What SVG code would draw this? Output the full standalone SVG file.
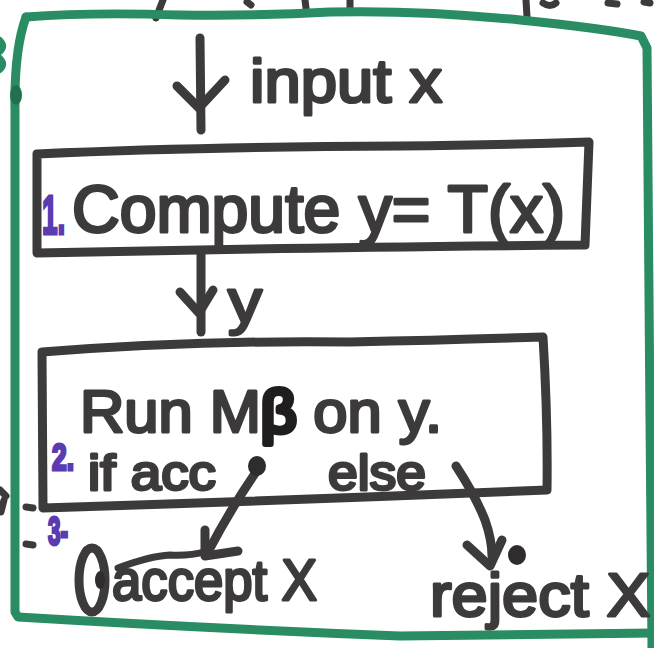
<svg xmlns="http://www.w3.org/2000/svg" width="654" height="648" viewBox="0 0 654 648">
  <style>
    .ink { fill: none; stroke: #3d3a3b; stroke-width: 9; stroke-linecap: round; stroke-linejoin: round; }
    .thin { fill: none; stroke: #3d3a3b; stroke-width: 7; stroke-linecap: round; stroke-linejoin: round; }
    .green { fill: none; stroke: #2a8c62; stroke-width: 9; stroke-linecap: round; stroke-linejoin: round; }
    .txt { font-family: "Liberation Sans", Arial, sans-serif; fill: #3d3a3b; stroke: #3d3a3b; stroke-width: 3; stroke-linejoin: round; }
    .num { font-family: "Liberation Sans", Arial, sans-serif; fill: #5a3bb2; stroke: #5a3bb2; stroke-width: 3; font-weight: bold; }
    .dot { fill: #2f2c2d; }
  </style>
  <rect width="654" height="648" fill="#ffffff"/>

  <!-- ink fragments along the top and left edges -->
  <g id="edge-marks">
    <path class="thin" d="M163,0 L156,18"/>
    <path class="thin" d="M247,2 L251,5"/>
    <path class="thin" d="M305,0 L306,8"/>
    <path class="thin" d="M350,0 L350,8"/>
    <path class="thin" d="M526,0 L527,17"/>
    <path class="thin" d="M543,3 Q550,8 556,3"/>
    <path class="thin" d="M608,3 L617,4"/>
    <path class="thin" d="M644,2 L650,3"/>
    <path d="M0,40 Q6,46 0,52 M0,58 Q6,64 0,70" fill="none" stroke="#2a8c62" stroke-width="6" stroke-linecap="round"/>
    <path class="thin" d="M0,490 L6,496 M4,500 L1,512"/>
    <path class="thin" d="M26,507 L33,508"/>
    <path class="thin" d="M26,544 L33,545"/>
  </g>

  <!-- outer green frame -->
  <g id="frame">
    <path class="green" d="M26,17 Q90,12 180,15 Q260,16 330,12 Q420,10 520,20 Q600,28 641,36 L647,48 Q649,250 650,420 L652,648"/>
    <path class="green" d="M26,17 Q14,50 15,110 L15,612 L18,617 Q200,628 400,636 L655,633"/>
    <ellipse cx="16" cy="95" rx="6" ry="10" fill="#23704f"/>
  </g>

  <!-- connectors -->
  <g id="connectors">
    <!-- input x -->
    <path class="ink" d="M200,38 L201,130"/>
    <path class="ink" d="M177,86 L199,108 L225,80"/>
    <!-- y -->
    <path class="ink" d="M201,252 L201,332"/>
    <path class="ink" d="M180,292 L199,313 L213,290"/>
    <!-- accept branch -->
    <path class="ink" d="M256,472 Q230,510 208,552"/>
    <path class="ink" d="M205,530 L205,556 L238,551"/>
    <path class="thin" d="M118,568 Q150,556 170,555 Q190,556 204,552"/>
    <!-- reject branch -->
    <path class="ink" d="M456,466 Q475,495 485,520 Q492,540 492,556"/>
    <path class="ink" d="M467,545 L490,566 L502,540"/>
  </g>

  <!-- step 1 -->
  <g id="compute">
    <path class="ink" d="M37,154 Q200,147 400,146 Q500,145 589,142 L585,245 Q350,247 200,250 L37,253 Z"/>
    <text class="num" transform="translate(42,234) scale(0.5,1)" font-size="56">1.</text>
    <text class="txt" x="72" y="232" font-size="66" textLength="493" lengthAdjust="spacingAndGlyphs">Compute y= T(x)</text>
  </g>

  <text class="txt" x="250" y="102" font-size="62" textLength="192" lengthAdjust="spacingAndGlyphs">input x</text>
  <text class="txt" x="228" y="322" font-size="62" textLength="34" lengthAdjust="spacingAndGlyphs">y</text>

  <!-- step 2 -->
  <g id="run">
    <path class="ink" d="M42,352 Q200,340 350,342 Q450,340 543,337 Q548,420 547,490 Q300,500 43,508 Z"/>
    <text class="txt" x="80" y="432" font-size="60" textLength="362" lengthAdjust="spacingAndGlyphs">Run M<tspan fill="#1f1d1e" stroke="#1f1d1e" stroke-width="6">β</tspan> on y.</text>
    <text class="num" x="52" y="470" font-size="36" textLength="22" lengthAdjust="spacingAndGlyphs">2.</text>
    <text class="txt" x="88" y="490" font-size="50" textLength="128" lengthAdjust="spacingAndGlyphs">if acc</text>
    <ellipse class="dot" cx="257" cy="466" rx="9" ry="10"/>
    <text class="txt" x="328" y="490" font-size="50" textLength="98" lengthAdjust="spacingAndGlyphs">else</text>
  </g>

  <text class="num" x="48" y="545" font-size="40" textLength="20" lengthAdjust="spacingAndGlyphs">3-</text>

  <!-- step 3 outcomes -->
  <g id="accept">
    <ellipse class="ink" cx="92" cy="580" rx="13" ry="32"/>
    <ellipse class="dot" cx="100" cy="580" rx="5" ry="9"/>
    <text class="txt" x="112" y="600" font-size="58" textLength="205" lengthAdjust="spacingAndGlyphs">accept X</text>
  </g>

  <g id="reject">
    <ellipse class="dot" cx="517" cy="555" rx="9" ry="10"/>
    <text class="txt" x="430" y="616" font-size="62" textLength="220" lengthAdjust="spacingAndGlyphs">reject X</text>
  </g>
</svg>
